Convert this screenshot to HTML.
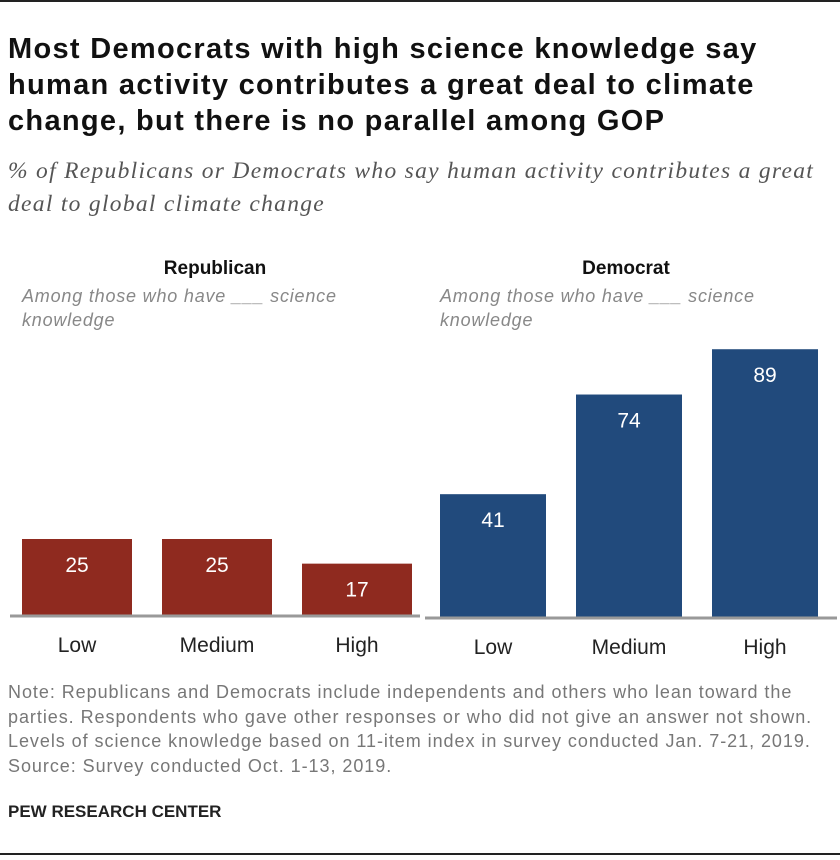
<!DOCTYPE html>
<html><head><meta charset="utf-8"><style>
body{margin:0;width:840px;height:860px;background:#fff;font-family:"Liberation Sans",sans-serif;position:relative;overflow:hidden}
.abs{position:absolute;white-space:nowrap}
</style></head><body>
<div class="abs" style="left:0;top:0;width:840px;height:2px;background:#222"></div>
<div class="abs" style="left:8px;top:31px;font-size:29px;letter-spacing:1.3px;font-weight:bold;line-height:36px;color:#111">Most Democrats with high science knowledge say<br>human activity contributes a great deal to climate<br>change, but there is no parallel among GOP</div>
<div class="abs" style="left:8px;top:155px;font-family:'Liberation Serif',serif;font-style:italic;font-size:23.5px;letter-spacing:1.3px;line-height:33px;color:#555">% of Republicans or Democrats who say human activity contributes a great<br>deal to global climate change</div>
<svg class="abs" style="left:0;top:0" width="840" height="860">
<g id="g"></g>
</svg>
<div class="abs" style="left:8px;top:680px;font-size:18px;letter-spacing:0.95px;line-height:24.5px;color:#777">Note: Republicans and Democrats include independents and others who lean toward the<br>parties. Respondents who gave other responses or who did not give an answer not shown.<br>Levels of science knowledge based on 11-item index in survey conducted Jan. 7-21, 2019.<br>Source: Survey conducted Oct. 1-13, 2019.</div>
<div class="abs" style="left:8px;top:802px;font-size:17px;font-weight:bold;color:#222">PEW RESEARCH CENTER</div>
<div class="abs" style="left:0;top:853px;width:840px;height:2px;background:#222"></div>
<script>
const categories=["Low","Medium","High"];
const repValues=[25,25,17];
const demValues=[41,74,89];
const panels=[
 {name:"Republican",vals:repValues,color:"#8f2a1f",x0:22,step:140,bw:110,base:616,scale:3.08,lx0:10,lx1:420,cx:215,key:"rep"},
 {name:"Democrat",vals:demValues,color:"#214a7c",x0:440,step:136,bw:106,base:618,scale:3.02,lx0:425,lx1:837,cx:626,key:"dem"}
];
const NS="http://www.w3.org/2000/svg";
const g=document.getElementById("g");
function mk(t,a,txt){const e=document.createElementNS(NS,t);for(const k in a)e.setAttribute(k,a[k]);if(txt!==undefined)e.textContent=txt;g.appendChild(e);return e;}
panels.forEach(p=>{
 const h=mk("text",{x:p.cx,y:274,"text-anchor":"middle","font-size":19,"font-weight":"bold",fill:"#111"},p.name);
 
 
 const s1=mk("text",{x:p.key==="rep"?22:440,y:302,"font-size":18,"letter-spacing":0.8,"font-style":"italic",fill:"#888"},"Among those who have ___ science");
 
 
 const s2=mk("text",{x:p.key==="rep"?22:440,y:326,"font-size":18,"letter-spacing":0.8,"font-style":"italic",fill:"#888"},"knowledge");
 
 
 p.vals.forEach((v,i)=>{
  const x=p.x0+i*p.step, hgt=v*p.scale, y=p.base-hgt;
  const r=mk("rect",{x:x,y:y,width:p.bw,height:hgt,fill:p.color});
  
  
  const t=mk("text",{x:x+p.bw/2,y:y+33,"text-anchor":"middle","font-size":21,fill:"#fff"},v);
  
  
  const c=mk("text",{x:x+p.bw/2,y:p.base+36,"text-anchor":"middle","font-size":21,fill:"#222"},categories[i]);
  
  
 });
 const l=mk("line",{x1:p.lx0,x2:p.lx1,y1:p.base,y2:p.base,stroke:"#999","stroke-width":3});
 
 
});
</script>
</body></html>
